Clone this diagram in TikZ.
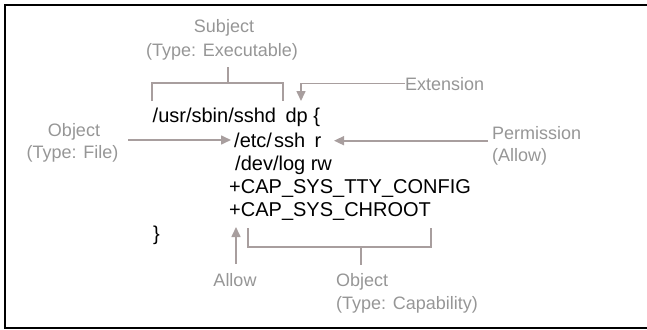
\documentclass[tikz,border=0pt]{standalone}
\usepackage{fontspec}
\setmainfont{Liberation Sans}
\usetikzlibrary{arrows.meta}
\definecolor{lbl}{RGB}{150,150,150}
\definecolor{ln}{RGB}{168,158,158}
\begin{document}
\begin{tikzpicture}[x=1pt,y=-1pt,
  code/.style={anchor=base west,inner sep=0pt,font=\fontsize{20}{24}\selectfont,text=black},
  lab/.style={anchor=base,inner sep=0pt,font=\fontsize{18}{22}\selectfont,text=lbl},
  labl/.style={lab,anchor=base west},
  conn/.style={draw=ln,line width=1.6pt},
  arr/.style={conn,-{Triangle[length=10pt,width=9pt]}}]
\useasboundingbox (0,0) rectangle (647,329);
\draw[line width=2pt] (660,5.5) -- (5,5.5) -- (5,328) -- (660,328);
% code
\node[code] (l1) at (152.5,122) {/usr/sbin/sshd\kern4pt{} dp \{};
\node[code] (l2) at (234,147) {/etc/\kern2pt{}ssh\kern4pt{} r};
\node[code] (l3) at (235,170.5) {/dev/log rw};
\node[code] (l4) at (229,193.5) {+CAP\_SYS\_TTY\_CONFIG};
\node[code] (l5) at (229,216.5) {+CAP\_SYS\_CHROOT};
\node[code] (l6) at (153,240.5) {\}};
% labels
\node[lab] (subj) at (224,33) {Subject};
\node[lab] (subjt) at (222,56.5) {(Type: Executable)};
\node[lab] (objf) at (74,136.5) {Object};
\node[lab] (objft) at (72.5,158) {(Type: File)};
\node[labl] (ext) at (405,90) {Extension};
\node[labl] (perm) at (492,139) {Permission};
\node[labl] (permt) at (492,161.5) {(Allow)};
\node[lab] (allow) at (235,286) {Allow};
\node[labl] (objc) at (336,286.5) {Object};
\node[labl] (objct) at (336,309) {(Type: Capability)};
% coordinates
\coordinate (sb1) at (152,101);
\coordinate (sb2) at (283,101);
\coordinate (sbj) at (228,83);
\coordinate (sbm) at (228,67);
\coordinate (extip) at (301,101);
\coordinate (ofs) at (128,140);
\coordinate (oft) at (231,140);
\coordinate (pms) at (488,140.7);
\coordinate (pmt) at (334,140.7);
\coordinate (als) at (236,264);
\coordinate (alt) at (236,227);
\coordinate (cb1) at (248,228);
\coordinate (cb2) at (431,228);
\coordinate (cbj) at (361,247);
\coordinate (cbm) at (361,265);
% connectors
\draw[conn] (sb1) |- (sbj) -| (sb2);
\draw[conn] (sbj) -- (sbm);
\draw[arr] (ext.west) -| (extip);
\draw[arr] (ofs) -- (oft);
\draw[arr] (pms) -- (pmt);
\draw[arr] (als) -- (alt);
\draw[conn] (cb1) |- (cbj) -| (cb2);
\draw[conn] (cbj) -- (cbm);
\end{tikzpicture}
\end{document}
